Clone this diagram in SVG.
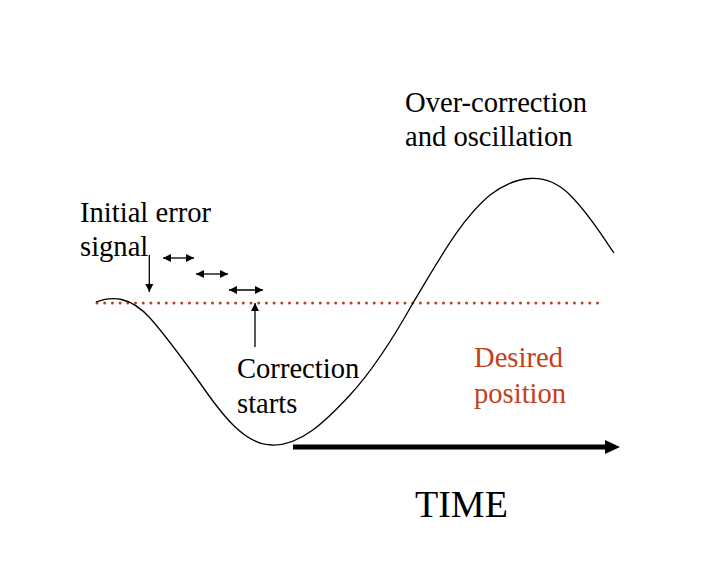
<svg xmlns="http://www.w3.org/2000/svg" width="728" height="586" viewBox="0 0 728 586">
<style>
.t{font-family:"Liberation Serif","Times New Roman",serif;font-size:28.6px;fill:#000}
.r{fill:#c2411d}
.a{stroke:#000;stroke-width:1.3;fill:none}
</style>
<defs>
<marker id="h" viewBox="0 0 10 10" refX="10" refY="5" markerWidth="8" markerHeight="10" markerUnits="userSpaceOnUse" orient="auto-start-reverse">
<path d="M0,0 L10,5 L0,10 Z" fill="#000"/>
</marker>
</defs>
<rect width="728" height="586" fill="#fff"/>
<g id="desired-line">
<line x1="97" y1="303" x2="600" y2="303" stroke="#c2411d" stroke-width="3" stroke-linecap="round" stroke-dasharray="0 7.7"/>
</g>
<g id="curve">
<path d="M96,302 C112,296 130,296 150,318 C166,336 182,358 200,383 C222,415 245,445 272,445 C300,446 325,422 350,395 C375,368 395,335 413,303 C440,258 462,218 490,195 C515,176 545,170 570,195 C590,215 602,236 614,253" fill="none" stroke="#000" stroke-width="1.3"/>
</g>
<g id="connectors">
<line class="a" x1="149.3" y1="255" x2="149.3" y2="292" marker-end="url(#h)"/>
<line class="a" x1="163" y1="258" x2="194" y2="258" marker-start="url(#h)" marker-end="url(#h)"/>
<line class="a" x1="196" y1="274" x2="228" y2="274" marker-start="url(#h)" marker-end="url(#h)"/>
<line class="a" x1="229" y1="290" x2="263" y2="290" marker-start="url(#h)" marker-end="url(#h)"/>
<line class="a" x1="255" y1="347" x2="255" y2="303" marker-end="url(#h)"/>
<line x1="293" y1="447" x2="607" y2="447" stroke="#000" stroke-width="5"/>
<polygon points="605,440 620,447 605,454" fill="#000"/>
</g>
<g id="label-initial">
<text class="t" x="80" y="222">Initial error</text>
<text class="t" x="80" y="256">signal</text>
</g>
<g id="label-over">
<text class="t" x="405" y="112">Over-correction</text>
<text class="t" x="405" y="146">and oscillation</text>
</g>
<g id="label-correction">
<text class="t" x="237" y="378">Correction</text>
<text class="t" x="237" y="413">starts</text>
</g>
<g id="label-desired">
<text class="t r" x="474" y="367">Desired</text>
<text class="t r" x="474" y="403">position</text>
</g>
<g id="label-time">
<text class="t" x="415" y="517" style="font-size:38px">TIME</text>
</g>
</svg>
